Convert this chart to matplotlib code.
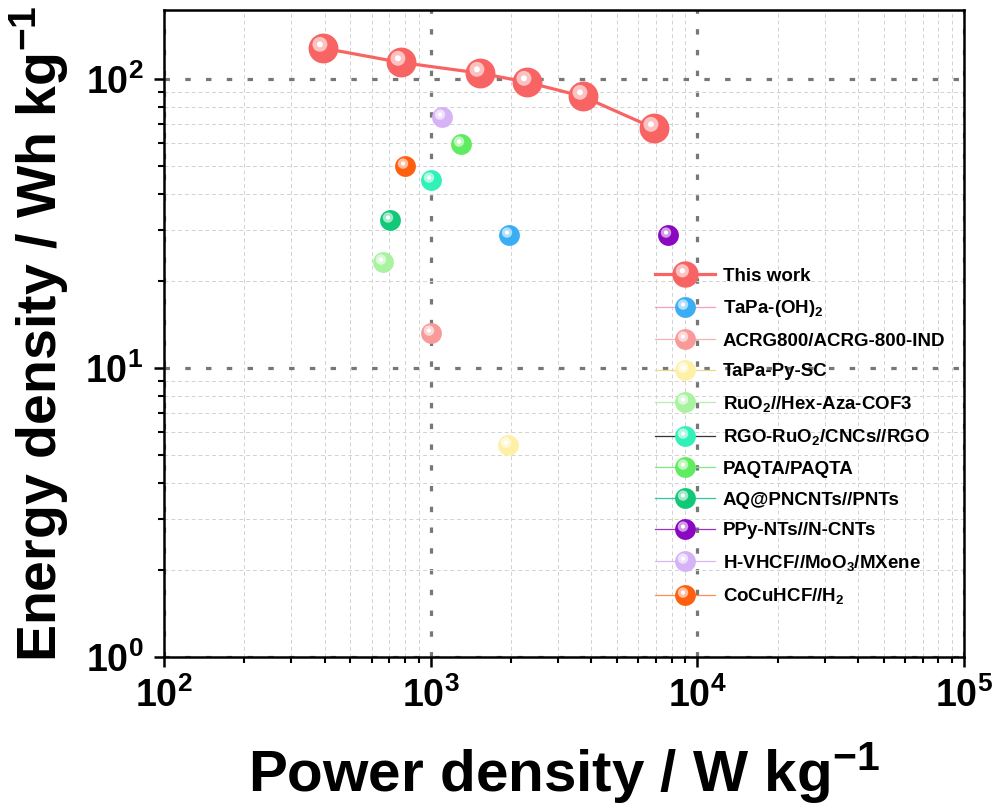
import numpy as np
import matplotlib
matplotlib.use("Agg")
import matplotlib.pyplot as plt
from matplotlib.markers import MarkerStyle
from matplotlib.transforms import Affine2D
from matplotlib.lines import Line2D
from matplotlib.legend_handler import HandlerTuple
from matplotlib.colors import to_rgb
from matplotlib.ticker import LogLocator, FuncFormatter, NullFormatter

plt.rcParams['font.family'] = 'Liberation Sans'
plt.rcParams['font.weight'] = 'bold'
plt.rcParams['mathtext.fontset'] = 'custom'
plt.rcParams['mathtext.rm'] = 'Liberation Sans:bold'
plt.rcParams['mathtext.bf'] = 'Liberation Sans:bold'
plt.rcParams['mathtext.it'] = 'Liberation Sans:bold'
plt.rcParams['mathtext.default'] = 'bf'

# this work
work_power = [394, 772, 1531, 2291, 3716, 6880]
work_energy = [127.7, 113.9, 104.6, 97.4, 86.9, 67.5]
work_color = '#F86464'

# reported devices
labels = ['TaPa-(OH)$_2$', 'ACRG800/ACRG-800-IND', 'TaPa-Py-SC',
          'RuO$_2$//Hex-Aza-COF3', 'RGO-RuO$_2$/CNCs//RGO', 'PAQTA/PAQTA',
          'AQ@PNCNTs//PNTs', 'PPy-NTs//N-CNTs', 'H-VHCF//MoO$_3$/MXene',
          'CoCuHCF//H$_2$']
power = [1967, 1003, 1955, 661, 1003, 1299, 704, 7762, 1100, 801]
energy = [28.9, 13.2, 5.39, 23.2, 44.7, 59.6, 32.5, 28.9, 73.7, 50.1]
colors = ['#3AAEF4', '#F89A9A', '#FFF0A8', '#A8F2A0', '#30F2B8', '#60EC60',
          '#10C878', '#8A08C0', '#D6B2F6', '#FF6010']
line_colors = ['#F4A0C0', '#F8B0B0', '#E8D890', '#B8EEB0', '#333333', '#80E880',
               '#30C8A0', '#9A30C8', '#D8B8F0', '#FF9050']


def lighten(c, f):
    r, g, b = to_rgb(c)
    return (r + (1 - r) * f, g + (1 - g) * f, b + (1 - b) * f)


ring_m = MarkerStyle('o', transform=Affine2D().scale(0.5).translate(-0.12, 0.14))
core_m = MarkerStyle('o', transform=Affine2D().scale(0.2).translate(-0.12, 0.14))


def ball(ax, x, y, c, ms, z):
    a = ax.plot(x, y, 'o', color=c, ms=ms, mew=0, zorder=z)[0]
    b = ax.plot(x, y, ls='none', marker=ring_m, color=lighten(c, 0.6), ms=ms, mew=0, zorder=z + 0.1)[0]
    d = ax.plot(x, y, ls='none', marker=core_m, color='white', ms=ms, mew=0, zorder=z + 0.2)[0]
    return a, b, d


fig = plt.figure(figsize=(9.99, 8.11), dpi=100)
ax = fig.add_axes([0.1642, 0.1899, 0.8008, 0.7978])
ax.set_xscale('log')
ax.set_yscale('log')
ax.set_xlim(1e2, 1e5)
ax.set_ylim(1, 173)

handles = []
ax.plot(work_power, work_energy, '-', color=work_color, lw=2.3, zorder=3)
ball(ax, work_power, work_energy, work_color, 21.5, 4)
h0 = Line2D([], [], color=work_color, lw=2.3, marker='o', ms=19, mew=0)
h1 = Line2D([], [], ls='none', marker=ring_m, color=lighten(work_color, 0.6), ms=19, mew=0)
h2 = Line2D([], [], ls='none', marker=core_m, color='white', ms=19, mew=0)
handles.append((h0, h1, h2))

for i in range(len(labels)):
    ball(ax, [power[i]], [energy[i]], colors[i], 15, 5)
    h0 = Line2D([], [], color=line_colors[i], lw=0.9, marker='o', mfc=colors[i], mec=colors[i], ms=15, mew=0)
    h1 = Line2D([], [], ls='none', marker=ring_m, color=lighten(colors[i], 0.6), ms=15, mew=0)
    h2 = Line2D([], [], ls='none', marker=core_m, color='white', ms=15, mew=0)
    handles.append((h0, h1, h2))

ax.set_axisbelow(True)
ax.xaxis.set_major_locator(LogLocator(base=10, numticks=10))
ax.yaxis.set_major_locator(LogLocator(base=10, numticks=10))
ax.xaxis.set_minor_locator(LogLocator(base=10, subs=np.arange(2, 10), numticks=20))
ax.yaxis.set_minor_locator(LogLocator(base=10, subs=np.arange(2, 10), numticks=20))
fmt = FuncFormatter(lambda v, p: r'$\mathbf{10^{%d}}$' % round(np.log10(v)))
ax.xaxis.set_major_formatter(fmt)
ax.yaxis.set_major_formatter(fmt)
ax.xaxis.set_minor_formatter(NullFormatter())
ax.yaxis.set_minor_formatter(NullFormatter())

ax.grid(which='minor', color='#d2d2d2', lw=0.7, ls=(0, (4, 3)))
ax.grid(which='major', color='#777777', lw=2.3, ls=(0, (1.7, 4.8)))

ax.tick_params(which='major', direction='out', length=7, width=1.8, labelsize=27, pad=8)
ax.tick_params(which='minor', direction='out', length=4, width=1.5)
for s in ax.spines.values():
    s.set_linewidth(1.8)

ax.set_xlabel('Power density / W kg$^{-1}$', fontsize=42, fontweight='bold', labelpad=18)
ax.set_ylabel('Energy density / Wh kg$^{-1}$', fontsize=40, fontweight='bold', labelpad=10)

ax.legend(handles, ['This work'] + labels, handler_map={tuple: HandlerTuple(ndivide=1)},
          loc='upper left', bbox_to_anchor=(0.614, 0.602), frameon=False,
          fontsize=13.5, handlelength=3.2, handletextpad=0.4, labelspacing=0.72,
          borderpad=0, borderaxespad=0)

fig.savefig('out.png', dpi=100)
